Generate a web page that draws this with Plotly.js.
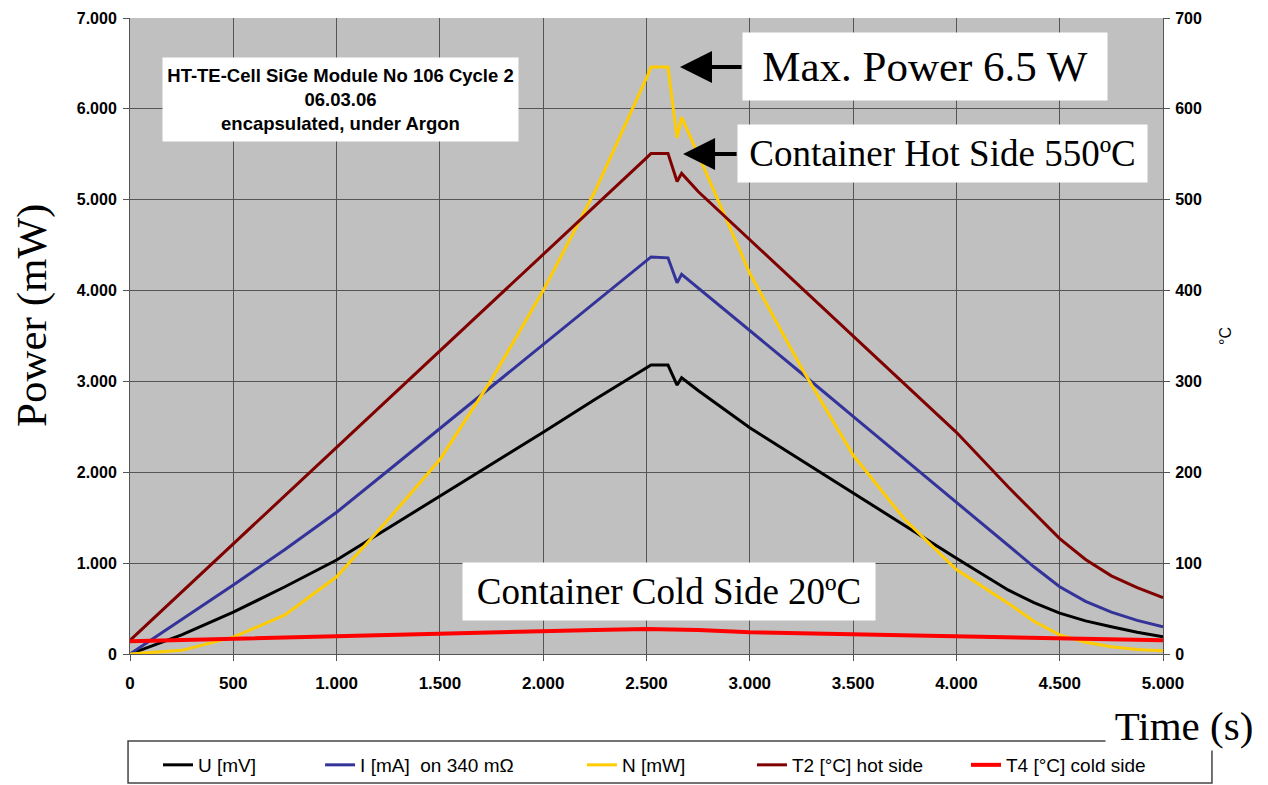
<!DOCTYPE html>
<html>
<head>
<meta charset="utf-8">
<script src="https://cdn.plot.ly/plotly-3.0.1.min.js"></script>
<style>html,body{margin:0;padding:0;background:#fff;}#chart{width:1268px;height:785px;}</style>
</head>
<body>
<div id="chart"></div>
<script>
// Time axis (s)
const time = [0, 250, 500, 750, 1000, 1250, 1500, 1750, 2000, 2250, 2500, 2522, 2604, 2648, 2670, 2750, 3000, 3250, 3500, 3750, 4000, 4250, 4375, 4500, 4625, 4750, 4875, 5000];
// U [mV]
const voltage = [0, 210, 460, 740, 1035, 1385, 1740, 2090, 2440, 2800, 3150, 3180, 3180, 2960, 3040, 2900, 2490, 2130, 1775, 1415, 1055, 705, 565, 450, 365, 300, 240, 190];
// I [mA] on 340 mOhm
const current = [0, 380, 760, 1150, 1560, 2020, 2480, 2945, 3405, 3870, 4330, 4370, 4360, 4085, 4180, 4030, 3565, 3090, 2615, 2140, 1665, 1195, 960, 740, 580, 460, 370, 300];
// N [mW]
const power = [0, 40, 185, 430, 850, 1480, 2140, 3020, 4000, 5090, 6340, 6460, 6460, 5680, 5910, 5500, 4190, 3150, 2190, 1480, 930, 560, 360, 210, 130, 80, 50, 35];
// T2 [°C] hot side
const tHot = [15, 68, 121, 174, 228, 281, 334, 387, 440, 493, 546, 551, 551, 520, 529, 509, 456, 403, 351, 298, 244, 184, 155, 127, 104, 86, 73, 62];
// T4 [°C] cold side
const tCold = [14, 15.5, 17, 18.5, 20, 21, 22, 23.5, 25, 26.5, 27.5, 27.5, 27.5, 27, 27, 26.5, 24, 23, 22, 21, 20, 19, 18.5, 18, 17, 16.5, 15.5, 15];

const seriesNames = ['U [mV]', 'I [mA]\u00a0 on 340 mΩ', 'N [mW]', 'T2 [°C] hot side', 'T4 [°C] cold side'];
const xTicks = [0, 500, 1000, 1500, 2000, 2500, 3000, 3500, 4000, 4500, 5000];

const serif = '"Times New Roman", "Liberation Serif", serif';
const sans = 'Arial, "Liberation Sans", sans-serif';

const traces = [
  {x: time, y: voltage, name: seriesNames[0], mode: 'lines', line: {color: '#000000', width: 3}, yaxis: 'y', legend: 'legend'},
  {x: time, y: current, name: seriesNames[1], mode: 'lines', line: {color: '#333399', width: 3}, yaxis: 'y', legend: 'legend2'},
  {x: time, y: power, name: seriesNames[2], mode: 'lines', line: {color: '#FFCC00', width: 3}, yaxis: 'y', legend: 'legend3'},
  {x: time, y: tHot, name: seriesNames[3], mode: 'lines', line: {color: '#800000', width: 3}, yaxis: 'y2', legend: 'legend4'},
  {x: time, y: tCold, name: seriesNames[4], mode: 'lines', line: {color: '#FF0000', width: 4}, yaxis: 'y2', legend: 'legend5'}
];

const legFont = {family: sans, size: 19, color: '#000'};
function leg(x) {
  return {x: x, y: -0.1745, xanchor: 'left', yanchor: 'middle', orientation: 'h',
          bgcolor: 'rgba(0,0,0,0)', borderwidth: 0, font: legFont};
}

const yTickFont = {family: sans, size: 16, color: '#000', weight: 'bold'};
const xTickFont = {family: sans, size: 17, color: '#000', weight: 'bold'};

const layout = {
  width: 1268, height: 785,
  margin: {l: 130, r: 105, t: 18, b: 131, autoexpand: false},
  paper_bgcolor: '#ffffff',
  plot_bgcolor: '#c0c0c0',
  separators: ',.',
  showlegend: true,
  xaxis: {
    range: [0, 5000], tickvals: xTicks, tickformat: ',', tickfont: xTickFont, ticklabelstandoff: 8,
    showgrid: true, gridcolor: '#555555', gridwidth: 1,
    showline: true, linecolor: '#555555', linewidth: 1,
    ticks: 'outside', ticklen: 6, tickcolor: '#555555', zeroline: false
  },
  yaxis: {
    range: [0, 7000], dtick: 1000, tickformat: ',', tickfont: yTickFont, ticklabelstandoff: 3,
    showgrid: true, gridcolor: '#555555', gridwidth: 1,
    showline: true, linecolor: '#555555', linewidth: 1,
    ticks: 'outside', ticklen: 6, tickcolor: '#555555', zeroline: false
  },
  yaxis2: {
    range: [0, 700], dtick: 100, overlaying: 'y', side: 'right', tickfont: yTickFont, ticklabelstandoff: 2,
    showgrid: false, showline: true, linecolor: '#555555', linewidth: 1,
    ticks: 'outside', ticklen: 6, tickcolor: '#555555', zeroline: false,
    title: {text: '°C', font: {family: sans, size: 16, color: '#000'}, standoff: 18}
  },
  legend: leg(0.0271),
  legend2: leg(0.1840),
  legend3: leg(0.4375),
  legend4: leg(0.6021),
  legend5: leg(0.8093),
  shapes: [
    {type: 'rect', xref: 'paper', yref: 'paper', x0: -0.0019, x1: 1.0474, y0: -0.2028, y1: -0.1368,
     line: {color: '#444444', width: 1.5}, fillcolor: 'rgba(0,0,0,0)', layer: 'above'}
  ],
  annotations: [
    {x: -0.0949, y: 0.533, xref: 'paper', yref: 'paper', showarrow: false, text: 'Power (mW)',
     textangle: -90, xanchor: 'center', yanchor: 'middle',
     font: {family: serif, size: 43, color: '#000'}},
    {x: 1019, y: 6103, xref: 'x', yref: 'y', showarrow: false,
     text: 'HT-TE-Cell SiGe Module No 106 Cycle 2<br>06.03.06<br>encapsulated, under Argon',
     font: {family: sans, size: 18.5, color: '#000', weight: 'bold'}, align: 'center',
     bgcolor: '#ffffff', width: 355, height: 83, borderpad: 0},
    {x: 3848, y: 6466, xref: 'x', yref: 'y', showarrow: false, text: 'Max. Power 6.5 W',
     font: {family: serif, size: 43, color: '#000'}, bgcolor: '#ffffff', width: 364, height: 67, borderpad: 0},
    {x: 3933, y: 5508, xref: 'x', yref: 'y', showarrow: false, text: 'Container Hot Side 550ºC',
     font: {family: serif, size: 37, color: '#000'}, bgcolor: '#ffffff', width: 409, height: 57, borderpad: 0},
    {x: 2609, y: 688, xref: 'x', yref: 'y', showarrow: false, text: 'Container Cold Side 20ºC',
     font: {family: serif, size: 37, color: '#000'}, bgcolor: '#ffffff', width: 412, height: 57, borderpad: 0},
    {x: 2662, y: 6460, xref: 'x', yref: 'y', text: '', showarrow: true, ax: 63, ay: 0,
     arrowhead: 2, arrowsize: 1.6, arrowwidth: 4, arrowcolor: '#000000'},
    {x: 2677, y: 5503, xref: 'x', yref: 'y', text: '', showarrow: true, ax: 55, ay: 0,
     arrowhead: 2, arrowsize: 1.6, arrowwidth: 4, arrowcolor: '#000000'},
    {x: 1.0203, y: -0.1132, xref: 'paper', yref: 'paper', xanchor: 'center', yanchor: 'middle',
     showarrow: false, text: 'Time (s)',
     font: {family: serif, size: 41, color: '#000'}, bgcolor: '#ffffff', width: 156, height: 48, borderpad: 0}
  ]
};

Plotly.newPlot('chart', traces, layout, {displayModeBar: false, staticPlot: true});
</script>
</body>
</html>
